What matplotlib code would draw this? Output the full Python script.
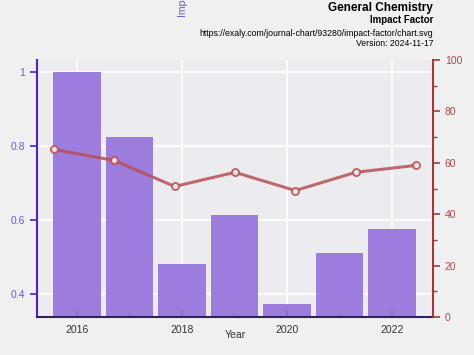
import numpy as np
import matplotlib.pyplot as plt

plt.rcParams['font.family'] = ['Liberation Sans', 'DejaVu Sans']

years = [2016, 2017, 2018, 2019, 2020, 2021, 2022]
impact = [1.0, 0.824, 0.482, 0.613, 0.373, 0.511, 0.576]
percentile = [65.2, 60.9, 50.8, 56.3, 49.2, 56.3, 59.0]

rect = [0.078, 0.107, 0.8354, 0.724]
fig = plt.figure(figsize=(4.74, 3.55), dpi=100, facecolor='#f0f0f0')
ax = fig.add_axes(rect)
ax.set_facecolor('#ececf0')

ax.bar(years, impact, width=0.9, color='#9370db', alpha=0.9, zorder=2)
ax.set_xlim(2015.24, 2022.78)
ax.set_ylim(0.338, 1.032)
ax.set_yticks([0.4, 0.6, 0.8, 1.0])
ax.set_yticklabels(['0.4', '0.6', '0.8', '1'])
ax.set_xticks([2016, 2018, 2020, 2022])
ax.set_xticks([2017, 2019, 2021], minor=True)
ax.grid(True, color='white', linewidth=1.2, zorder=0)
ax.set_axisbelow(True)

ax.tick_params(axis='x', direction='in', length=5, width=1.2, color='#3a2a80',
               labelsize=7.5, labelcolor='#333333', pad=6)
ax.tick_params(axis='x', which='minor', direction='in', length=3, width=1, color='#3a2a80')
ax.tick_params(axis='y', direction='out', length=5, width=1.2, color='#5020c0',
               labelsize=7.5, labelcolor='#7055d0')
for s in ['top', 'right']:
    ax.spines[s].set_visible(False)
ax.spines['left'].set_color('#5020c0')
ax.spines['left'].set_linewidth(1.5)
ax.spines['bottom'].set_color('#302060')
ax.spines['bottom'].set_linewidth(1.5)
ax.set_xlabel('Year', fontsize=7.5, color='#333333', labelpad=-4)

# line sits on its own point scale (padded band), not the bar scale
ax2 = fig.add_axes(rect, label='line')
ax2.patch.set_visible(False)
ax2.plot(years, percentile, color='#b85058', alpha=0.85, linewidth=2.2,
         marker='o', markersize=5, markerfacecolor='white',
         markeredgecolor='#b85058', markeredgewidth=1.5, zorder=3)
ax2.set_xlim(2015.718, 2022.282)
ax2.set_ylim(0, 100)
ax2.xaxis.set_visible(False)
ax2.yaxis.tick_right()
ax2.set_yticks([0, 20, 40, 60, 80, 100])
ax2.set_yticks([10, 30, 50, 70, 90], minor=True)
ax2.tick_params(axis='y', direction='out', length=5, width=1.2, color='#a03840',
                labelsize=7.5, labelcolor='#a84850')
ax2.tick_params(axis='y', which='minor', direction='out', length=3, width=1, color='#a03840')
for s in ['top', 'left', 'bottom']:
    ax2.spines[s].set_visible(False)
ax2.spines['right'].set_color('#a03840')
ax2.spines['right'].set_linewidth(1.5)

fig.text(183/474, 1 - 17/355, 'Impact Factor', rotation=90, color='#7055d0',
         fontsize=7.5, ha='center', va='bottom')
fig.text(433/474, 1 - 8/355, 'General Chemistry', fontsize=8.5, fontweight='bold',
         ha='right', va='center')
fig.text(433/474, 1 - 20/355, 'Impact Factor', fontsize=7, fontweight='bold',
         ha='right', va='center')
fig.text(433/474, 1 - 33/355, 'https://exaly.com/journal-chart/93280/impact-factor/chart.svg',
         fontsize=6.3, ha='right', va='center')
fig.text(433/474, 1 - 44/355, 'Version: 2024-11-17', fontsize=6.2, ha='right', va='center')

fig.savefig('out.png', dpi=100, facecolor=fig.get_facecolor())
